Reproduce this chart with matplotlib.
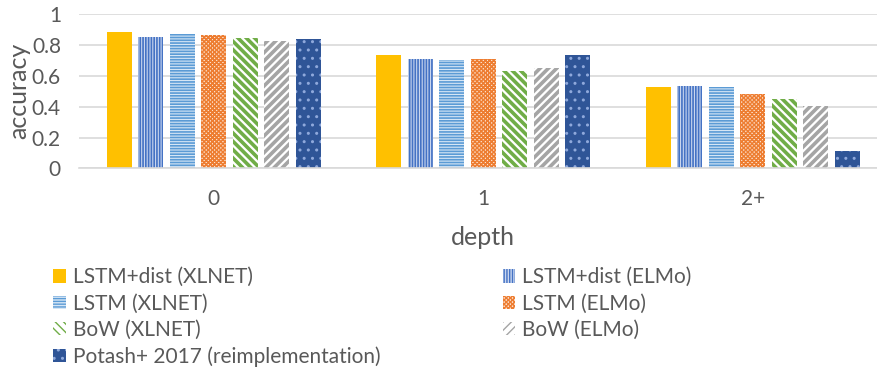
import matplotlib.pyplot as plt
import numpy as np

plt.rcParams['font.family'] = ['Lato', 'DejaVu Sans']

depths = ['0', '1', '2+']
series = [
    'LSTM+dist (XLNET)', 'LSTM+dist (ELMo)',
    'LSTM (XLNET)', 'LSTM (ELMo)',
    'BoW (XLNET)', 'BoW (ELMo)',
    'Potash+ 2017 (reimplementation)',
]
lstm_dist_xlnet = [0.883, 0.736, 0.530]
lstm_dist_elmo = [0.855, 0.712, 0.534]
lstm_xlnet = [0.872, 0.703, 0.530]
lstm_elmo = [0.866, 0.712, 0.482]
bow_xlnet = [0.848, 0.632, 0.450]
bow_elmo = [0.827, 0.649, 0.407]
potash = [0.840, 0.736, 0.112]
values = [lstm_dist_xlnet, lstm_dist_elmo, lstm_xlnet, lstm_elmo,
          bow_xlnet, bow_elmo, potash]

# (face, hatch colour, hatch, hatch linewidth)
styles = [
    ('#FFC000', '#FFC000', None, 1.0),
    ('#C9D6EF', '#4472C4', '||||||', 1.2),
    ('#D6E6F5', '#5B9BD5', '------', 1.2),
    ('#FDE3D1', '#ED7D31', 'xxxxxxxx', 1.1),
    ('white', '#70AD47', '\\\\\\\\', 2.6),
    ('white', '#A5A5A5', '////', 2.6),
    ('#2F5597', '#8FA9DC', '..', 1.0),
]

text_color = '#595959'
grid_color = '#D9D9D9'

fig = plt.figure(figsize=(8.77, 3.7), dpi=100)
ax = fig.add_axes([79 / 877, (370 - 168.3) / 370, 3 * 269.5 / 877, 154 / 370])

x = np.arange(len(depths))
step = 0.117
width = 0.093
handles = []
for i, (name, vals) in enumerate(zip(series, values)):
    face, hcol, hatch, hlw = styles[i]
    offs = (i - 3) * step
    with plt.rc_context({'hatch.linewidth': hlw}):
        bars = ax.bar(x + offs, vals, width, color=face, edgecolor=hcol,
                      linewidth=0, hatch=hatch, label=name, zorder=2)
    handles.append(bars)

ax.set_xlim(-0.5, 2.5)
ax.set_ylim(0, 1)
ax.set_yticks([0, 0.2, 0.4, 0.6, 0.8, 1])
ax.set_yticklabels(['0', '0.2', '0.4', '0.6', '0.8', '1'])
ax.set_xticks(x)
ax.set_xticklabels(depths)
ax.yaxis.grid(True, color=grid_color, linewidth=1.2, zorder=0)
ax.set_axisbelow(True)
for s in ['top', 'right', 'left']:
    ax.spines[s].set_visible(False)
ax.spines['bottom'].set_color(grid_color)
ax.spines['bottom'].set_linewidth(1.2)
ax.tick_params(axis='y', length=0, pad=13, labelsize=15, labelcolor=text_color)
ax.tick_params(axis='x', length=0, pad=15, labelsize=15, labelcolor=text_color)

ax.set_ylabel('accuracy', fontsize=18, color=text_color)
ax.yaxis.set_label_coords(-0.06, 0.5)
ax.set_xlabel('depth', fontsize=18, color=text_color, labelpad=12)

order = [0, 2, 4, 6, 1, 3, 5]
leg = fig.legend([handles[k] for k in order], [series[k] for k in order],
                 loc='upper left', bbox_to_anchor=(45 / 877, 1 - 259 / 370),
                 ncol=2, frameon=False, fontsize=15, handlelength=0.6,
                 handleheight=0.6, handletextpad=0.35, labelspacing=0.3,
                 columnspacing=5.85, borderaxespad=0)
for t in leg.get_texts():
    t.set_color(text_color)

fig.savefig('out.png', dpi=100)
